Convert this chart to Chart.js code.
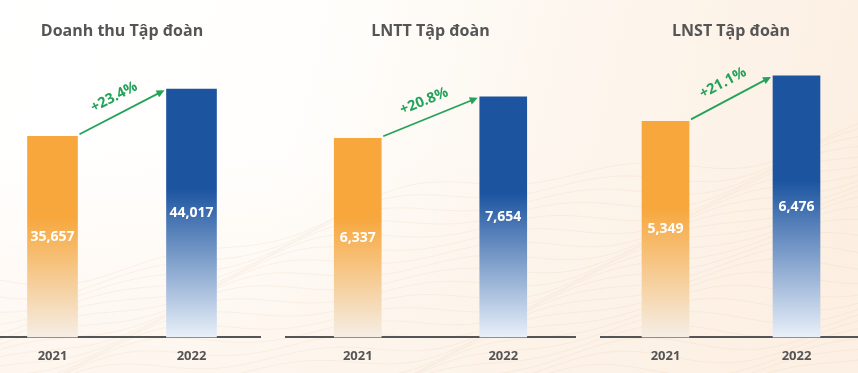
<!DOCTYPE html>
<html><head><meta charset="utf-8">
<script src="https://cdn.jsdelivr.net/npm/chart.js@4.4.0/dist/chart.umd.min.js"></script>
<style>
html,body{margin:0;padding:0;width:858px;height:373px;overflow:hidden;}
body{position:relative;background:#fff;}
#bg{position:absolute;left:0;top:0;}
.p{position:absolute;top:0;height:375px;}
</style></head><body>
<canvas id="bg" width="858" height="373"></canvas>
<div class="p" style="left:-17px;width:278px"><canvas id="c1"></canvas></div>
<div class="p" style="left:285px;width:291px"><canvas id="c2"></canvas></div>
<div class="p" style="left:600px;width:262px"><canvas id="c3"></canvas></div>
<script>
// ---- data ----
const years = ['2021', '2022'];
const titles = ['Doanh thu Tập đoàn', 'LNTT Tập đoàn', 'LNST Tập đoàn'];
const revenue = [35657, 44017];
const profitBeforeTax = [6337, 7654];
const profitAfterTax = [5349, 6476];
const growthLabels = ['+23.4%', '+20.8%', '+21.1%'];

// ---- background decoration ----
(function(){
  const c = document.getElementById('bg').getContext('2d');
  const g = c.createLinearGradient(0, 0, 858, 200);
  g.addColorStop(0, '#ffffff');
  g.addColorStop(0.35, '#fffefc');
  g.addColorStop(0.65, '#fdf6ee');
  g.addColorStop(1, '#fcefe2');
  c.fillStyle = g; c.fillRect(0, 0, 858, 373);
  const g2 = c.createLinearGradient(0, 150, 0, 373);
  g2.addColorStop(0, 'rgba(252,240,228,0)');
  g2.addColorStop(1, 'rgba(252,240,228,0.6)');
  c.fillStyle = g2; c.fillRect(0, 0, 858, 373);
  c.strokeStyle = 'rgba(220,185,145,0.18)';
  c.lineWidth = 0.8;
  for (let k = 0; k < 26; k++) {
    c.beginPath();
    for (let x = 0; x <= 858; x += 6) {
      const y = 280 + k * 9 - x * 0.18 + 14 * Math.sin(x / 95 + k * 0.25) + 8 * Math.sin(x / 37 + k * 0.6);
      if (x === 0) c.moveTo(x, y); else c.lineTo(x, y);
    }
    c.stroke();
  }
})();

// ---- chart helpers ----
const solidColors = ['#F7A73C', '#1C54A0'];
const paleColors = ['#F5EEE6', '#E9F0F9'];
const FONT = '"Open Sans", sans-serif';

function barFill(c) {
  const ch = c.chart, area = ch.chartArea, i = c.dataIndex;
  if (!area) return solidColors[i];
  const ys = ch.scales.y;
  const top = ys.getPixelForValue(c.raw), bot = ys.getPixelForValue(0);
  const g = ch.ctx.createLinearGradient(0, top, 0, bot);
  g.addColorStop(0, solidColors[i]);
  g.addColorStop(0.4, solidColors[i]);
  g.addColorStop(1, paleColors[i]);
  return g;
}

const overlay = {
  id: 'overlay',
  afterDatasetsDraw(chart, args, opts) {
    const ctx = chart.ctx;
    const meta = chart.getDatasetMeta(0);
    const data = chart.data.datasets[0].data;
    ctx.save();
    ctx.font = '700 14px ' + FONT;
    ctx.fillStyle = '#ffffff';
    ctx.textAlign = 'center';
    ctx.textBaseline = 'middle';
    meta.data.forEach((el, i) => {
      ctx.fillText(data[i].toLocaleString('en-US'), el.x, (el.y + el.base) / 2);
    });
    const a = meta.data[0], b = meta.data[1];
    const x0 = a.x + a.width / 2 + 2, y0 = a.y - 2;
    const x1 = b.x - b.width / 2 - 2, y1 = b.y + 1;
    const ang = Math.atan2(y1 - y0, x1 - x0);
    const green = '#22A35B';
    ctx.strokeStyle = green; ctx.fillStyle = green; ctx.lineWidth = 1.8;
    const hl = 8, hw = 3.8;
    const ex = x1 - Math.cos(ang) * hl * 0.8, ey = y1 - Math.sin(ang) * hl * 0.8;
    ctx.beginPath(); ctx.moveTo(x0, y0); ctx.lineTo(ex, ey); ctx.stroke();
    ctx.beginPath();
    ctx.moveTo(x1, y1);
    ctx.lineTo(x1 - Math.cos(ang) * hl - Math.sin(ang) * hw, y1 - Math.sin(ang) * hl + Math.cos(ang) * hw);
    ctx.lineTo(x1 - Math.cos(ang) * hl + Math.sin(ang) * hw, y1 - Math.sin(ang) * hl - Math.cos(ang) * hw);
    ctx.closePath(); ctx.fill();
    const mx = (x0 + x1) / 2, my = (y0 + y1) / 2;
    const px = Math.sin(ang), py = -Math.cos(ang);
    ctx.translate(mx + px * 17, my + py * 17);
    ctx.rotate(ang);
    ctx.font = '700 14.5px ' + FONT;
    ctx.fillText(opts.label, 0, 0);
    ctx.restore();
  }
};

function makeChart(id, title, values, yMax, barW, growth) {
  return new Chart(document.getElementById(id), {
    type: 'bar',
    data: {
      labels: years,
      datasets: [{ data: values, backgroundColor: barFill, borderWidth: 0, barThickness: barW }]
    },
    options: {
      responsive: true,
      maintainAspectRatio: false,
      animation: false,
      layout: { padding: { top: 0, bottom: 0, left: 0, right: 0 } },
      plugins: {
        legend: { display: false },
        tooltip: { enabled: false },
        title: {
          display: true, text: title, color: '#555555',
          font: { family: FONT, size: 16, weight: '700', lineHeight: 1.2 },
          padding: { top: 22, bottom: 19 }
        },
        overlay: { label: growth }
      },
      scales: {
        x: {
          grid: { display: false, drawTicks: false },
          border: { display: true, color: '#555555', width: 2 },
          ticks: { color: '#555555', font: { family: FONT, size: 13, weight: '700' }, padding: 11 }
        },
        y: { display: false, min: 0, max: yMax }
      }
    },
    plugins: [overlay]
  });
}

makeChart('c1', titles[0], revenue, 49150, 50, growthLabels[0]);
makeChart('c2', titles[1], profitBeforeTax, 8821, 47, growthLabels[1]);
makeChart('c3', titles[2], profitAfterTax, 6865, 47, growthLabels[2]);
</script>
</body></html>
